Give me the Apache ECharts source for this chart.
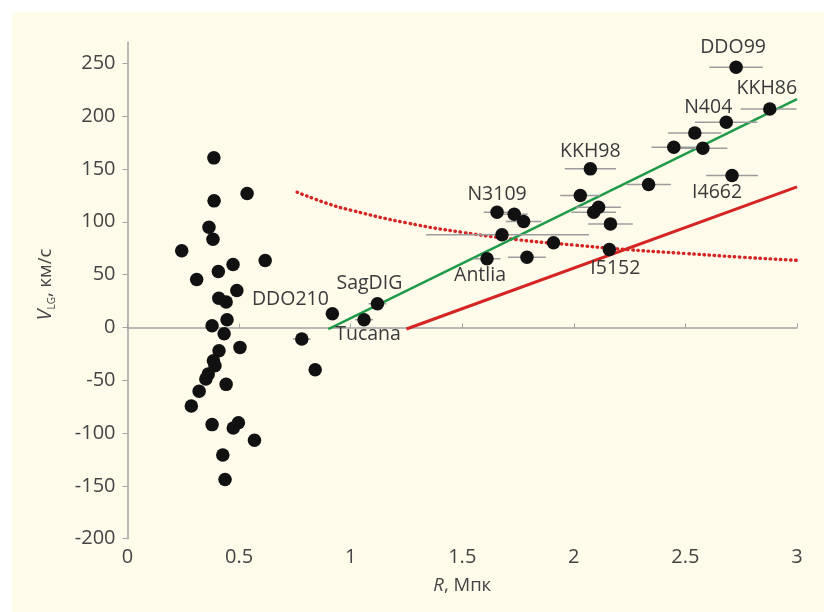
<!DOCTYPE html>
<html>
<head>
<meta charset="utf-8">
<script src="https://cdn.jsdelivr.net/npm/echarts@6/dist/echarts.min.js"></script>
<style>
  html, body { margin: 0; padding: 0; background: #ffffff; }
  #chart { position: absolute; left: 12px; top: 12px; width: 812px; height: 600px; }
</style>
</head>
<body>
<div id="chart"></div>
<script>
// distances R (Mpc) and velocities V_LG (km/s)
var R = [0.387, 0.388, 0.536, 0.365, 0.383, 0.243, 0.617, 0.407, 0.473, 0.310,
         0.490, 0.409, 0.442, 0.446, 0.379, 0.433, 0.410, 0.504, 0.385, 0.392,
         0.362, 0.351, 0.442, 0.321, 0.286, 0.379, 0.497, 0.474, 0.569, 0.427,
         0.437, 0.781, 0.841, 0.918, 1.060, 1.120, 1.656, 1.733, 1.775, 1.678,
         1.909, 1.611, 1.790, 2.029, 2.111, 2.089, 2.164, 2.159, 2.727, 2.878,
         2.683, 2.542, 2.448, 2.578, 2.074, 2.709, 2.335];
var V = [160.5, 119.8, 126.7, 94.9, 83.5, 72.5, 63.4, 53, 59.6, 45.4,
         35, 27.7, 24, 7.3, 1.6, -6, -22, -18.9, -31.5, -36.2,
         -44.2, -48.9, -53.9, -60.5, -74.4, -92, -90.2, -95.2, -106.9, -120.7,
         -144, -11, -40, 13, 7.3, 22.4, 109, 107.2, 100.3, 87.7,
         80.1, 65, 66.5, 124.8, 113.8, 109, 98, 73.8, 246.2, 206.8,
         194.2, 184.1, 170.5, 169.6, 150.1, 143.8, 135.2];
// horizontal error bars (minus / plus side, Mpc)
var errMinus = [0, 0.03, 0, 0, 0.02, 0, 0, 0.02, 0, 0,
                0, 0, 0.02, 0, 0, 0.02, 0, 0, 0, 0,
                0, 0, 0.02, 0, 0, 0, 0, 0, 0, 0.03,
                0.03, 0.04, 0, 0.03, 0.04, 0.04, 0.06, 0.06, 0.08, 0.34,
                0, 0.06, 0.085, 0.09, 0.1, 0.1, 0.1, 0, 0.12, 0.13,
                0.14, 0.12, 0.1, 0.11, 0.115, 0.116, 0.1];
var errPlus = [0, 0.03, 0, 0, 0.02, 0, 0, 0.02, 0, 0,
               0, 0, 0.02, 0, 0, 0.02, 0, 0, 0, 0,
               0, 0, 0.02, 0, 0, 0, 0, 0, 0, 0.03,
               0.03, 0.04, 0, 0.03, 0.04, 0.04, 0.06, 0.06, 0.08, 0.39,
               0, 0.06, 0.085, 0.09, 0.1, 0.1, 0.1, 0, 0.12, 0.12,
               0.14, 0.12, 0.1, 0.11, 0.115, 0.116, 0.1];
// galaxy names by point index
var names = { 33: 'DDO210', 34: 'Tucana', 35: 'SagDIG', 36: 'N3109', 41: 'Antlia',
              47: 'I5152', 48: 'DDO99', 49: 'KKH86', 50: 'N404', 54: 'KKH98', 55: 'I4662' };

var greenLine = [[0.9, -1.6], [3.0, 216]];
var redLine = [[1.25, -1.5], [3.0, 133]];
var redDotted = [[0.76, 128], [0.9, 117], [1.0, 111], [1.25, 99], [1.5, 90],
                 [1.75, 83], [2.0, 78], [2.25, 73.5], [2.5, 70], [2.75, 66.5], [3.0, 63.5]];

var yTicks = [-200, -150, -100, -50, 0, 50, 100, 150, 200, 250];

var FONT = 'Open Sans';
// label offsets from the point centre, px
var labelOffset = { DDO210: [-42, -14], Tucana: [4, 15], SagDIG: [-8, -20], N3109: [0, -18],
                    Antlia: [-7, 17], I5152: [6, 19], DDO99: [-3, -20], KKH86: [-3, -21],
                    N404: [-18, -15], KKH98: [0, -17], I4662: [-15, 17] };

var pts = R.map(function (r, i) {
    var item = { value: [r, V[i]] };
    if (names[i]) {
        item.label = {
            show: true, formatter: names[i], position: 'inside',
            offset: labelOffset[names[i]], color: '#3a3a3a',
            fontSize: 19.5, fontFamily: FONT
        };
    }
    return item;
});

var chart = echarts.init(document.getElementById('chart'));
chart.setOption({
    backgroundColor: '#fffbea',
    animation: false,
    grid: { left: 115.5, right: 27, top: 30.2, bottom: 73.3 },
    xAxis: {
        type: 'value', min: 0, max: 3, interval: 0.5,
        name: '{i|R}, Мпк', nameLocation: 'middle', nameGap: 38,
        nameTextStyle: {
            color: '#444', fontSize: 18.5, fontFamily: FONT,
            rich: { i: { fontStyle: 'italic', fontSize: 18.5, fontFamily: FONT, color: '#444' } }
        },
        axisLine: { lineStyle: { color: '#a3a3a3', width: 1.5 } },
        axisTick: { inside: true, length: 4, lineStyle: { color: '#a3a3a3' } },
        axisLabel: { color: '#444', fontSize: 20, fontFamily: FONT, margin: 9 },
        splitLine: { show: false }
    },
    yAxis: {
        type: 'value', min: -200, max: 270, interval: 50,
        name: '{i|V}{s|LG}, км/с', nameLocation: 'middle', nameGap: 70,
        nameTextStyle: {
            color: '#444', fontSize: 18.5, fontFamily: FONT, padding: [0, 0, 0, 12],
            rich: {
                i: { fontStyle: 'italic', fontSize: 19.5, fontFamily: FONT, color: '#444', lineHeight: 24 },
                s: { fontSize: 10, fontFamily: FONT, color: '#444', verticalAlign: 'bottom', lineHeight: 10 }
            }
        },
        axisLine: { show: true, lineStyle: { color: '#a3a3a3', width: 1.5 } },
        axisTick: { show: true, length: 5, customValues: yTicks, lineStyle: { color: '#a3a3a3' } },
        axisLabel: { color: '#444', fontSize: 20, fontFamily: FONT, margin: 12, customValues: yTicks },
        splitLine: { show: false }
    },
    series: [
        {
            type: 'line', data: redDotted, smooth: true, symbol: 'none', z: 2,
            lineStyle: { color: '#d42424', width: 3.4, type: [0.5, 4.6], cap: 'round' }
        },
        {
            type: 'line', data: redLine, symbol: 'none', z: 2,
            lineStyle: { color: '#d42424', width: 3 }
        },
        {
            type: 'line', data: greenLine, symbol: 'none', z: 2,
            lineStyle: { color: '#1f9a4a', width: 2.5 }
        },
        {
            type: 'custom', z: 3, silent: true,
            data: R.map(function (r, i) { return [r - errMinus[i], V[i], r + errPlus[i]]; }),
            encode: { x: [0, 2], y: 1 },
            renderItem: function (params, api) {
                if (api.value(2) - api.value(0) <= 0) return null;
                var a = api.coord([api.value(0), api.value(1)]);
                var b = api.coord([api.value(2), api.value(1)]);
                return {
                    type: 'line',
                    shape: { x1: a[0], y1: a[1], x2: b[0], y2: b[1] },
                    style: { stroke: '#9c9c9c', lineWidth: 1.5 }
                };
            }
        },
        {
            type: 'scatter', data: pts, symbolSize: 13.5, z: 4,
            itemStyle: { color: '#111', opacity: 1 }
        }
    ]
});
</script>
</body>
</html>
